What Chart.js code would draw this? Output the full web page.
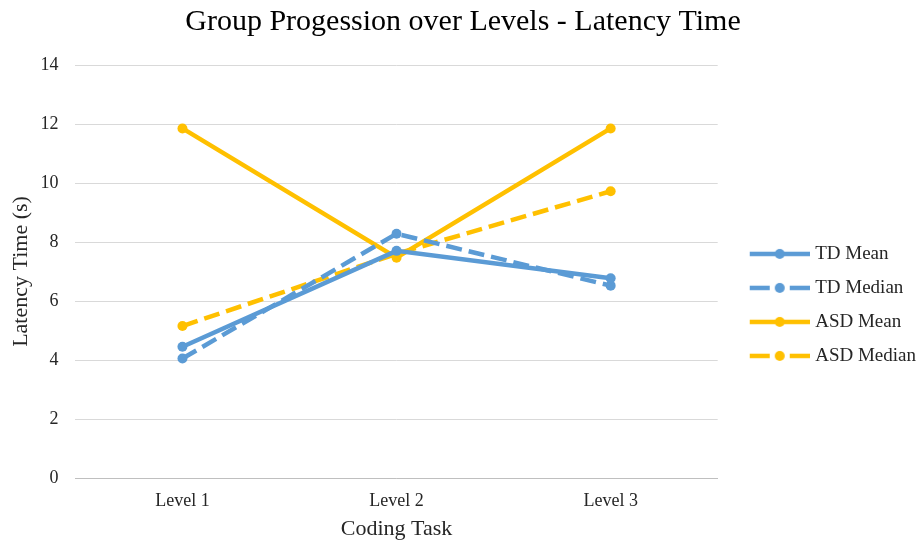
<!DOCTYPE html>
<html>
<head>
<meta charset="utf-8">
<script src="https://cdn.jsdelivr.net/npm/chart.js@4"></script>
<style>
  html, body { margin: 0; padding: 0; background: #fff; }
  #wrap { width: 919px; height: 542px; }
</style>
</head>
<body>
<div id="wrap"><canvas id="c" width="919" height="542"></canvas></div>
<script>
// Categories and series (latency in seconds)
const levels = ['Level 1', 'Level 2', 'Level 3'];
const tdMean = [4.45, 7.7, 6.77];
const tdMedian = [4.05, 8.28, 6.52];
const asdMean = [11.85, 7.47, 11.85];
const asdMedian = [5.15, 7.6, 9.72];
const seriesNames = ['TD Mean', 'TD Median', 'ASD Mean', 'ASD Median'];

const BLUE = '#5B9BD5';
const GOLD = '#FFC000';
const DASH = [16, 7];
const LINE_W = 4.5;
const SERIF = "'Liberation Serif', 'Times New Roman', serif";
const TEXT = '#262626';
const GAP = 21;      // blank space left of each legend swatch
const OVERHANG = 4;  // swatch image is a bit wider than its legend box

// Legend swatch: short line with a dot in the middle, solid or dashed
function swatch(color, dashed) {
  const cv = document.createElement('canvas');
  cv.width = 60 + GAP; cv.height = 14;
  const g = cv.getContext('2d');
  g.translate(GAP, 0);
  g.strokeStyle = color;
  g.lineWidth = LINE_W;
  if (dashed) {
    g.beginPath(); g.moveTo(0, 7); g.lineTo(20, 7); g.stroke();
    g.beginPath(); g.moveTo(40, 7); g.lineTo(60, 7); g.stroke();
  } else {
    g.beginPath(); g.moveTo(0, 7); g.lineTo(60, 7); g.stroke();
  }
  g.fillStyle = color;
  g.beginPath(); g.arc(30, 7, 5, 0, Math.PI * 2); g.fill();
  return cv;
}

function series(label, data, color, dashed) {
  return {
    label, data,
    borderColor: color,
    backgroundColor: color,
    borderWidth: LINE_W,
    borderDash: dashed ? DASH : [],
    pointRadius: 5,
    pointHoverRadius: 5,
    pointBorderWidth: 0,
    pointBackgroundColor: color,
    tension: 0,
    fill: false,
    legendSwatch: swatch(color, dashed)
  };
}

new Chart(document.getElementById('c'), {
  type: 'line',
  data: {
    labels: levels,
    datasets: [
      series(seriesNames[0], tdMean, BLUE, false),
      series(seriesNames[1], tdMedian, BLUE, true),
      series(seriesNames[2], asdMean, GOLD, false),
      series(seriesNames[3], asdMedian, GOLD, true)
    ]
  },
  options: {
    responsive: false,
    animation: false,
    devicePixelRatio: 1,
    layout: { padding: { left: 0, right: -7, top: 4, bottom: 0 } },
    plugins: {
      title: {
        display: true,
        text: 'Group Progession over Levels - Latency Time',
        color: '#000',
        font: { family: SERIF, size: 30, weight: 'normal' },
        padding: { top: 0, bottom: 25 }
      },
      legend: {
        position: 'right',
        align: 'center',
        title: {
          display: true,
          text: ' ',
          font: { family: SERIF, size: 19 },
          padding: { top: 20, bottom: 21 }
        },
        labels: {
          usePointStyle: true,
          pointStyleWidth: 60 + GAP - 2 * OVERHANG,
          boxHeight: 14,
          color: TEXT,
          font: { family: SERIF, size: 19 },
          padding: 15,
          generateLabels(chart) {
            return chart.data.datasets.map((ds, i) => ({
              text: ds.label,
              pointStyle: ds.legendSwatch,
              fillStyle: ds.borderColor,
              strokeStyle: ds.borderColor,
              lineWidth: 0,
              hidden: false,
              datasetIndex: i,
              fontColor: TEXT
            }));
          }
        }
      },
      tooltip: { enabled: false }
    },
    scales: {
      x: {
        offset: true,
        grid: { display: false, drawTicks: false },
        border: { display: true, color: '#bfbfbf', width: 1 },
        ticks: { color: TEXT, font: { family: SERIF, size: 18 }, padding: 12 },
        title: {
          display: true, text: 'Coding Task', color: TEXT,
          font: { family: SERIF, size: 22 }, padding: { top: -8, bottom: 0 }
        }
      },
      y: {
        min: 0, max: 14,
        grid: { color: '#d9d9d9', lineWidth: 1, drawTicks: false },
        border: { display: false },
        ticks: { stepSize: 2, color: TEXT, font: { family: SERIF, size: 18 }, padding: 17 },
        title: {
          display: true, text: 'Latency Time (s)', color: TEXT,
          font: { family: SERIF, size: 22 }, padding: { top: 8, bottom: -11 }
        }
      }
    }
  }
});
</script>
</body>
</html>
